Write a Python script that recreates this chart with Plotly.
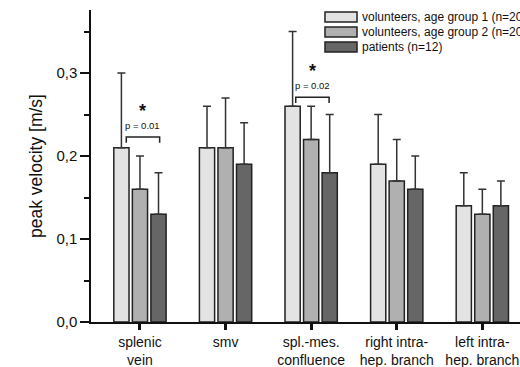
import plotly.graph_objects as go

categories = ["splenic<br>vein", "smv", "spl.-mes.<br>confluence", "right intra-<br>hep. branch", "left intra-<br>hep. branch"]
series_names = ["volunteers, age group 1 (n=20)", "volunteers, age group 2 (n=20)", "patients (n=12)"]
group1 = [0.21, 0.21, 0.26, 0.19, 0.14]
group2 = [0.16, 0.21, 0.22, 0.17, 0.13]
patients = [0.13, 0.19, 0.18, 0.16, 0.14]
group1_err = [0.09, 0.05, 0.09, 0.06, 0.04]
group2_err = [0.04, 0.06, 0.04, 0.05, 0.03]
patients_err = [0.05, 0.05, 0.07, 0.04, 0.03]
colors = ["#e3e3e3", "#b0b0b0", "#666666"]

W, H = 520, 367
L, R, T, B = 91, 0, 10, 45
pw, ph = W - L - R, H - T - B

def px(x):
    return (x - L) / pw

def py(y):
    return (H - B - y) / ph

fig = go.Figure()
xs = list(range(len(categories)))
for vals, errs, col, name in zip([group1, group2, patients], [group1_err, group2_err, patients_err], colors, series_names):
    fig.add_trace(go.Bar(
        x=xs, y=vals, name=name, showlegend=False,
        marker=dict(color=col, line=dict(color="#222222", width=1.5)),
        error_y=dict(type="data", symmetric=False, array=errs, arrayminus=[0] * len(errs),
                     color="#333333", thickness=1.5, width=4),
    ))

shapes = []
annotations = []
# significance brackets (data coords)
brackets = [(-0.16, 0.23, 0.223, 0.216, "p = 0.01", 0.237, 0.254),
            (2 - 0.18, 2 + 0.21, 0.271, 0.264, "p = 0.02", 0.285, 0.302)]
for x0, x1, ytop, yend, ptxt, yp, ys in brackets:
    path = f"M {x0},{yend} L {x0},{ytop} L {x1},{ytop} L {x1},{yend}"
    shapes.append(dict(type="path", path=path, xref="x", yref="y", line=dict(color="#222", width=1.5)))
    xm = (x0 + x1) / 2
    annotations.append(dict(x=xm, y=yp, xref="x", yref="y", text=ptxt, showarrow=False,
                            font=dict(size=9.5, color="#111")))
    annotations.append(dict(x=xm, y=ys, xref="x", yref="y", text="<b>*</b>", showarrow=False,
                            font=dict(size=18, color="#111")))

# manual legend
leg_rows = [(12, 22), (27, 37), (42, 52)]
for (y0, y1), col, name in zip(leg_rows, colors, series_names):
    shapes.append(dict(type="rect", xref="paper", yref="paper", x0=px(325), x1=px(357),
                       y0=py(y1), y1=py(y0), fillcolor=col, line=dict(color="#222", width=1.5)))
    annotations.append(dict(x=px(360), y=py((y0 + y1) / 2), xref="paper", yref="paper", text=name,
                            showarrow=False, xanchor="left", yanchor="middle",
                            font=dict(size=12, color="#111")))

fig.update_layout(
    width=W, height=H, margin=dict(l=L, r=R, t=T, b=B, autoexpand=False),
    paper_bgcolor="white", plot_bgcolor="white",
    barmode="group", bargap=0.35, bargroupgap=0.18,
    separators=",.",
    font=dict(family="Arial, Liberation Sans, sans-serif", color="#111"),
    shapes=shapes, annotations=annotations,
    xaxis=dict(range=[-0.572, 4.44], tickmode="array", tickvals=xs, ticktext=categories,
               showline=True, linecolor="#111", linewidth=1.5, ticks="outside", ticklen=6,
               tickwidth=2.5, tickcolor="#111", showgrid=False, zeroline=False,
               tickfont=dict(size=14, color="#111")),
    yaxis=dict(range=[0, 0.376], tickvals=[0, 0.1, 0.2, 0.3], tickformat=".1f",
               showline=True, linecolor="#111", linewidth=1.5, ticks="outside", ticklen=9,
               tickwidth=1.5, tickcolor="#111", showgrid=False, zeroline=False,
               minor=dict(tickvals=[0.05, 0.15, 0.25, 0.35], ticks="outside", ticklen=5,
                          tickwidth=1.5, tickcolor="#111"),
               tickfont=dict(size=15, color="#111"),
               title=dict(text="peak velocity [m/s]", font=dict(size=17.5, color="#111"), standoff=9)),
)

fig.write_html("out.html", config={"displayModeBar": False},
               post_script="document.body.style.margin='0';document.body.style.overflow='hidden';")
